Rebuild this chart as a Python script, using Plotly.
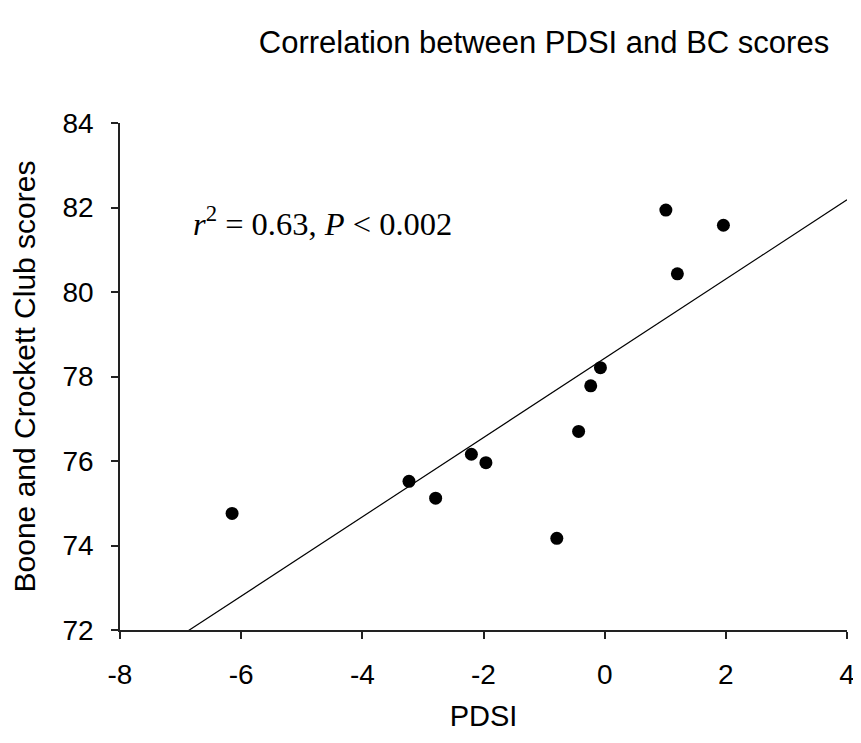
import numpy as np
import plotly.graph_objects as go

pdsi = [-6.15, -3.23, -2.79, -2.20, -1.96, -0.79, -0.43, -0.23, -0.07, 1.01, 1.20, 1.96]
bc_scores = [74.76, 75.52, 75.12, 76.16, 75.96, 74.17, 76.70, 77.78, 78.21, 81.94, 80.43, 81.58]

x_ticks = [-8, -6, -4, -2, 0, 2, 4]
x_tick_labels = ["-8", "-6", "-4", "-2", "0", "2", "4"]
y_ticks = [72, 74, 76, 78, 80, 82, 84]
y_tick_labels = ["72", "74", "76", "78", "80", "82", "84"]

slope, intercept = np.polyfit(pdsi, bc_scores, 1)
line_x = [x_ticks[0], x_ticks[-1]]
line_y = [slope * v + intercept for v in line_x]

FONT = "Liberation Sans, Arial, sans-serif"

fig = go.Figure()
fig.add_trace(go.Scatter(x=line_x, y=line_y, mode="lines",
                         line=dict(color="black", width=1.2), showlegend=False))
fig.add_trace(go.Scatter(x=pdsi, y=bc_scores, mode="markers",
                         marker=dict(color="black", size=13), showlegend=False))

fig.add_annotation(x=-6.82, y=81.67, xref="x", yref="y", xanchor="left", yanchor="middle",
                   text="<i>r</i><sup>2</sup> = 0.63, <i>P</i> < 0.002", showarrow=False,
                   font=dict(family="Liberation Serif, Times New Roman, serif", size=32.5, color="black"))

axis_common = dict(showgrid=False, zeroline=False, showline=True, linecolor="#222222", linewidth=1.5,
                   ticks="outside", ticklen=7, tickwidth=1.5, tickcolor="#222222",
                   tickfont=dict(family=FONT, size=28, color="black"),
                   ticklabelstandoff=12, automargin=False, mirror=False)

fig.update_layout(
    width=861, height=743,
    margin=dict(l=112, r=22, t=115, b=121, autoexpand=False),
    paper_bgcolor="white", plot_bgcolor="white",
    title=dict(text="Correlation between PDSI and BC scores", x=0.6225, xanchor="center",
               y=0.954, yanchor="middle",
               font=dict(family=FONT, size=31, color="black")),
    xaxis=dict(range=[-8, 4], tickvals=x_ticks, ticktext=x_tick_labels,
               title=dict(text="PDSI", font=dict(family=FONT, size=29, color="black"),
                          standoff=16),
               **axis_common),
    yaxis=dict(range=[72, 84], tickvals=y_ticks, ticktext=y_tick_labels,
               title=dict(text="Boone and Crockett Club scores",
                          font=dict(family=FONT, size=30, color="black"), standoff=24),
               **axis_common),
)

fig.write_html("out.html")
